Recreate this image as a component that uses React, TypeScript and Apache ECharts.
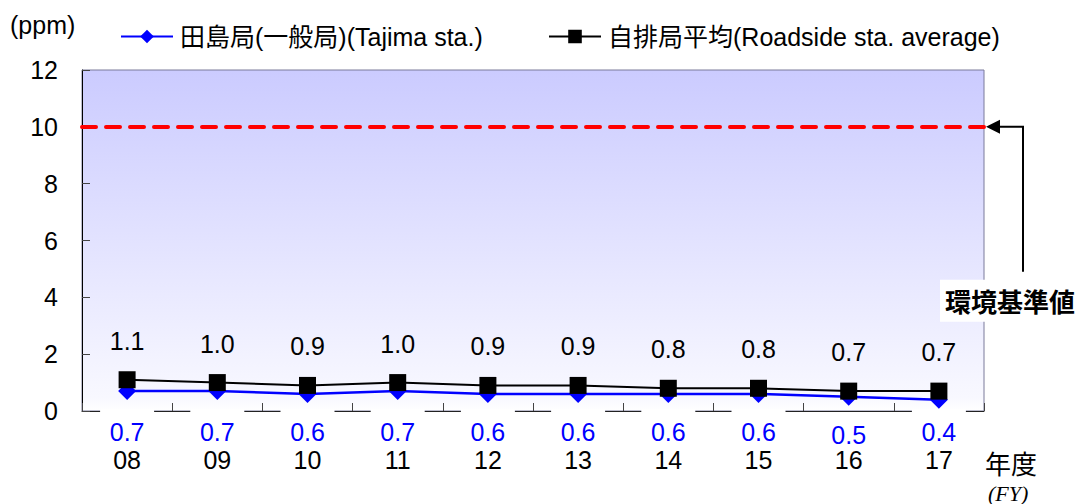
import React, { useEffect, useRef } from "react";
import * as echarts from "echarts";

const years = ["08", "09", "10", "11", "12", "13", "14", "15", "16", "17"];
const tajima = [0.7, 0.7, 0.6, 0.7, 0.6, 0.6, 0.6, 0.6, 0.5, 0.4];
const roadside = [1.1, 1.0, 0.9, 1.0, 0.9, 0.9, 0.8, 0.8, 0.7, 0.7];
const standardValue = 10;
const yMin = 0;
const yMax = 12;
const yInterval = 2;

const tajimaName = "田島局(一般局)(Tajima sta.)";
const roadsideName = "自排局平均(Roadside sta. average)";
const standardLabel = "環境基準値";

const FONT = "'Liberation Sans', 'Noto Sans CJK JP', sans-serif";
const W = 1085;
const H = 504;
const GRID = { left: 82, right: 101, top: 70, bottom: 93 };
const FS = 25;

export default function App() {
  const ref = useRef<HTMLDivElement>(null);

  useEffect(() => {
    if (!ref.current) return;
    const chart = echarts.init(ref.current, undefined, { renderer: "svg" });
    const legendCommon = {
      top: 24,
      padding: 0,
      itemWidth: 52,
      itemHeight: 17,
      itemGap: 0,
      textStyle: { fontSize: FS, color: "#000", fontFamily: FONT, padding: [0, 0, 0, 2] },
    };
    const option: any = {
      animation: false,
      backgroundColor: "#ffffff",
      textStyle: { fontFamily: FONT },
      grid: {
        ...GRID,
        show: true,
        borderColor: "#7a7a9a",
        borderWidth: 1,
        backgroundColor: {
          type: "linear",
          x: 0,
          y: 0,
          x2: 0,
          y2: 1,
          colorStops: [
            { offset: 0, color: "#cbcbff" },
            { offset: 0.96, color: "#f8f8ff" },
            { offset: 1, color: "#ffffff" },
          ],
        },
      },
      legend: [
        { ...legendCommon, left: 120, data: [tajimaName] },
        { ...legendCommon, left: 548, data: [roadsideName] },
      ],
      xAxis: {
        type: "category",
        data: years,
        boundaryGap: true,
        axisLine: { show: true, lineStyle: { color: "#222", width: 1 } },
        axisTick: { show: true, inside: true, length: 8, lineStyle: { color: "#444" } },
        axisLabel: {
          margin: -2,
          interval: 0,
          formatter: (v: string, i: number) => {
            const st = i === 8 ? "b2" : "b";
            return `{${st}|${tajima[i].toFixed(1)}}\n{c|${v}}`;
          },
          rich: {
            b: {
              color: "#0000ff",
              fontSize: FS,
              fontFamily: FONT,
              lineHeight: 36,
              padding: [10, 0, 0, 0],
              width: 54,
              align: "center",
              backgroundColor: "#ffffff",
            },
            b2: {
              color: "#0000ff",
              fontSize: FS,
              fontFamily: FONT,
              lineHeight: 36,
              padding: [15, 0, 0, 0],
              width: 54,
              align: "center",
            },
            c: {
              color: "#000",
              fontSize: FS,
              fontFamily: FONT,
              lineHeight: 30,
              align: "center",
            },
          },
        },
        splitLine: { show: false },
      },
      yAxis: {
        type: "value",
        min: yMin,
        max: yMax,
        interval: yInterval,
        axisLine: { show: true, lineStyle: { color: "#000", width: 1 } },
        axisTick: { show: true, inside: true, length: 8, lineStyle: { color: "#444" } },
        axisLabel: { fontSize: FS, color: "#000", margin: 24, fontFamily: FONT },
        splitLine: { show: false },
      },
      series: [
        {
          name: tajimaName,
          type: "line",
          data: tajima,
          color: "#0000ff",
          symbol: "diamond",
          symbolSize: 18,
          lineStyle: { color: "#0000ff", width: 2.5 },
          itemStyle: { color: "#0000ff" },
          z: 2,
          markLine: {
            silent: true,
            symbol: "none",
            label: { show: false },
            lineStyle: { color: "#ff0000", width: 4, type: [14, 10], cap: "round" },
            data: [{ yAxis: standardValue }],
          },
        },
        {
          name: roadsideName,
          type: "line",
          data: roadside,
          color: "#000000",
          symbol: "rect",
          symbolSize: 17,
          lineStyle: { color: "#000", width: 2 },
          itemStyle: { color: "#000" },
          z: 3,
          label: {
            show: true,
            position: "top",
            distance: 18,
            fontSize: FS,
            color: "#000",
            fontFamily: FONT,
            formatter: (p: any) => Number(p.value).toFixed(1),
          },
        },
      ],
    };
    chart.setOption(option);

    const yStd = chart.convertToPixel({ yAxisIndex: 0 }, standardValue) as number;
    const xRight = W - GRID.right;
    const xElbow = xRight + 39;
    const yLabel = yStd + 173;
    chart.setOption({
      graphic: [
        {
          type: "text",
          x: 10,
          y: 25,
          style: { text: "(ppm)", font: `${FS}px ${FONT}`, fill: "#000", verticalAlign: "middle" },
        },
        {
          type: "polyline",
          shape: { points: [[xRight + 10, yStd], [xElbow, yStd], [xElbow, yLabel - 28]] },
          style: { stroke: "#000", lineWidth: 2, fill: "none" },
          z: 10,
        },
        {
          type: "polygon",
          shape: { points: [[xRight + 2, yStd], [xRight + 16, yStd - 7], [xRight + 16, yStd + 7]] },
          style: { fill: "#000" },
          z: 10,
        },
        {
          type: "rect",
          shape: { x: xRight - 44, y: yLabel - 20, width: 147, height: 42 },
          style: { fill: "#ffffff" },
          z: 10,
        },
        {
          type: "text",
          x: xRight - 39,
          y: yLabel + 1,
          style: {
            text: standardLabel,
            font: `bold 26px 'Noto Sans CJK JP', sans-serif`,
            fill: "#000",
            verticalAlign: "middle",
          },
          z: 11,
        },
        {
          type: "text",
          x: xRight + 1,
          y: H - GRID.bottom + 51,
          style: {
            text: "年度",
            font: `26px 'Noto Sans CJK JP', sans-serif`,
            fill: "#000",
            verticalAlign: "middle",
          },
        },
        {
          type: "text",
          x: xRight + 4,
          y: H - GRID.bottom + 82,
          style: {
            text: "(FY)",
            font: `italic 22px 'Liberation Serif', serif`,
            fill: "#000",
            verticalAlign: "middle",
          },
        },
      ],
    });

    return () => chart.dispose();
  }, []);

  return (
    <div
      ref={ref}
      style={{ position: "fixed", left: 0, top: 0, width: W, height: H }}
    />
  );
}
